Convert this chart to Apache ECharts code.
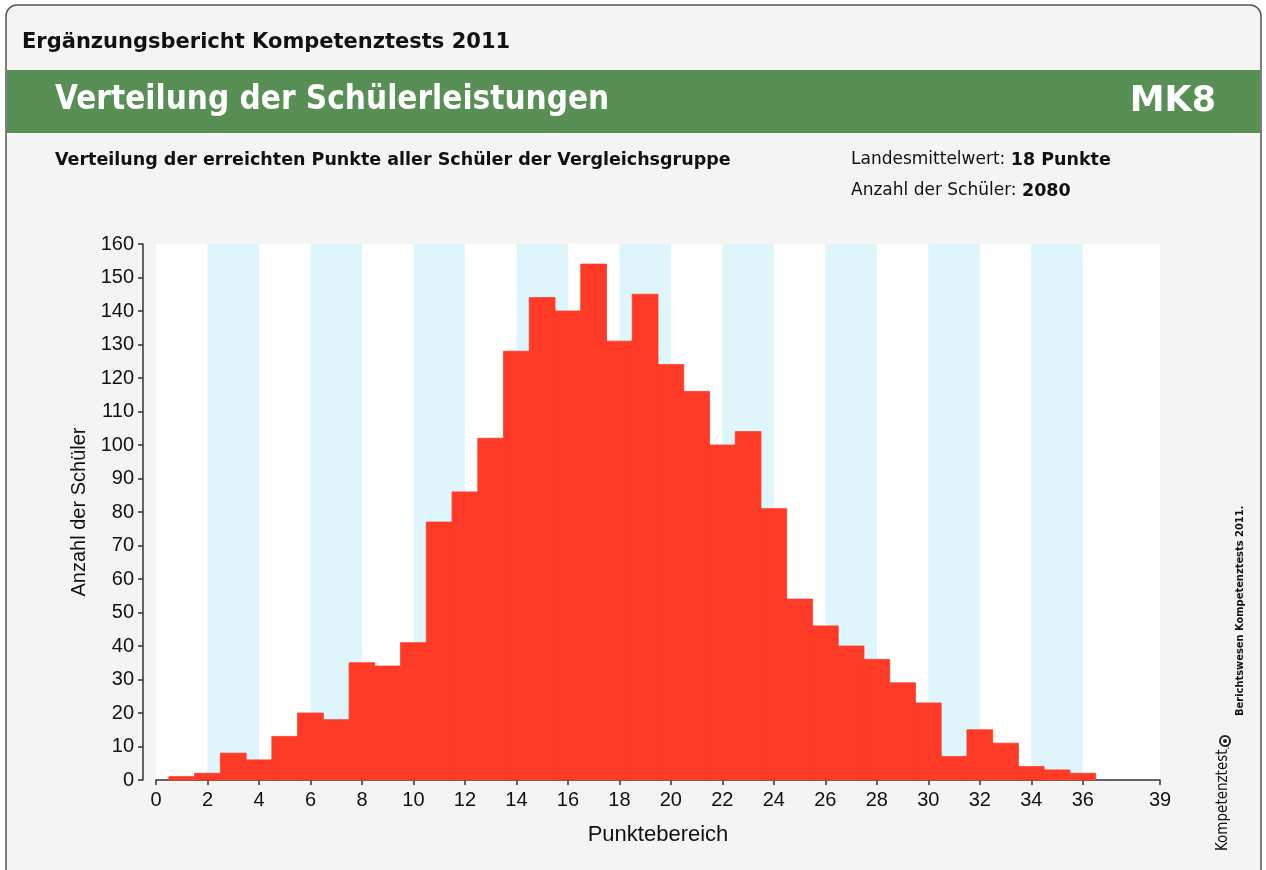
<!DOCTYPE html>
<html>
<head>
<meta charset="utf-8">
<script src="https://cdn.jsdelivr.net/npm/echarts@6/dist/echarts.min.js"></script>
<style>
html,body{margin:0;padding:0;background:#fff;}
#c{width:1266px;height:870px;}
</style>
</head>
<body>
<div id="c"></div>
<script>
// ---- data ----
const points = [1,2,3,4,5,6,7,8,9,10,11,12,13,14,15,16,17,18,19,20,21,22,23,24,25,26,27,28,29,30,31,32,33,34,35,36];
const counts = [1,2,8,6,13,20,18,35,34,41,77,86,102,128,144,140,154,131,145,124,116,100,104,81,54,46,40,36,29,23,7,15,11,4,3,2];
const stripeStarts = [2,6,10,14,18,22,26,30,34];
const xTickLabels = [0,2,4,6,8,10,12,14,16,18,20,22,24,26,28,30,32,34,36,39];
const yMax = 160;
const yStep = 10;

const headFont = '"DejaVu Sans",sans-serif';
const condFont = '"DejaVu Sans Condensed","DejaVu Sans",sans-serif';
const axisFont = '"Liberation Sans",Arial,sans-serif';

const chart = echarts.init(document.getElementById('c'), null, {renderer:'canvas'});

const barData = points.map((p,i)=>[p, counts[i]]);
const stripeData = stripeStarts.map(s=>[s, s+2]);

const option = {
  backgroundColor:'#ffffff',
  animation:false,
  grid:{left:156, right:106, top:244, bottom:90, show:true, backgroundColor:'#ffffff', borderWidth:0},
  xAxis:{
    type:'value', min:0, max:39, interval:1,
    name:'Punktebereich', nameLocation:'middle', nameGap:44,
    nameTextStyle:{fontFamily:axisFont, fontSize:22, color:'#111'},
    axisLine:{show:true, onZero:false, lineStyle:{color:'#333', width:1.5}},
    axisTick:{show:true, length:5, lineStyle:{color:'#333', width:1.5}, customValues:xTickLabels},
    axisLabel:{fontFamily:axisFont, fontSize:20, color:'#111', margin:10, customValues:xTickLabels},
    splitLine:{show:false}
  },
  yAxis:{
    type:'value', min:0, max:yMax, interval:yStep, offset:13,
    name:'Anzahl der Schüler', nameLocation:'middle', nameGap:50,
    nameTextStyle:{fontFamily:axisFont, fontSize:20, color:'#111'},
    axisLine:{show:true, onZero:false, lineStyle:{color:'#333', width:1.5}},
    axisTick:{show:true, length:5, lineStyle:{color:'#333', width:1.5}},
    axisLabel:{fontFamily:axisFont, fontSize:20, color:'#111', margin:9},
    splitLine:{show:false}
  },
  series:[
    {
      type:'custom', z:1, silent:true,
      data:stripeData,
      renderItem:function(params, api){
        const p0 = api.coord([api.value(0), 0]);
        const p1 = api.coord([api.value(1), yMax]);
        return {type:'rect', shape:{x:p0[0], y:p1[1], width:p1[0]-p0[0], height:p0[1]-p1[1]},
                style:{fill:'#dff5fc'}};
      }
    },
    {
      type:'custom', z:2,
      data:barData,
      renderItem:function(params, api){
        const k = api.value(0), v = api.value(1);
        const p0 = api.coord([k-0.5, 0]);
        const p1 = api.coord([k+0.5, v]);
        return {type:'rect', shape:{x:p0[0], y:p1[1], width:p1[0]-p0[0], height:p0[1]-p1[1]},
                style:{fill:'#ff3a26', stroke:'#ff3a26', lineWidth:0.8}};
      }
    }
  ],
  graphic:[
    {type:'rect', z:-10, silent:true, shape:{x:0,y:0,width:1266,height:870}, style:{fill:'#ffffff'}},
    {type:'rect', z:-9, silent:true, shape:{x:6,y:5,width:1255,height:900,r:11}, style:{fill:'#f4f4f4', stroke:'#555', lineWidth:1.5}},
    {type:'rect', z:-8, silent:true, shape:{x:7,y:70,width:1253,height:63}, style:{fill:'#578f54'}},
    {type:'text', left:22, top:32, style:{text:'Ergänzungsbericht Kompetenztests 2011', font:'bold 21px '+headFont, fill:'#111'}},
    {type:'text', left:55, top:84, style:{text:'Verteilung der Schülerleistungen', font:'bold 33px '+condFont, fill:'#ffffff'}},
    {type:'text', right:50, top:84, style:{text:'MK8', font:'bold 35px '+headFont, fill:'#ffffff'}},
    {type:'text', left:55, top:151, style:{text:'Verteilung der erreichten Punkte aller Schüler der Vergleichsgruppe', font:'bold 17.5px '+headFont, fill:'#111'}},
    {type:'text', left:851, top:151, style:{
      text:'{n|Landesmittelwert: }{b|18 Punkte}\n{n|Anzahl der Schüler: }{b|2080}',
      rich:{n:{font:'17px '+headFont, fill:'#111', lineHeight:31}, b:{font:'bold 17.5px '+headFont, fill:'#111', lineHeight:31}}
    }},
    {type:'text', x:1240, y:716, rotation:Math.PI/2, style:{text:'Berichtswesen Kompetenztests 2011.', font:'bold 11px '+condFont, fill:'#111', align:'left', verticalAlign:'middle'}},
    {type:'text', x:1223, y:851, rotation:Math.PI/2, style:{
      text:'{k|Kompetenztest}{d|.de}',
      rich:{k:{font:'15px '+condFont, fill:'#111'}, d:{font:'bold 7px '+condFont, fill:'#111', verticalAlign:'bottom'}},
      align:'left', verticalAlign:'middle'}},
    {type:'circle', shape:{cx:1225, cy:741, r:5}, style:{fill:'#fff', stroke:'#222', lineWidth:2}},
    {type:'circle', shape:{cx:1225, cy:741, r:2}, style:{fill:'#222'}}
  ]
};
chart.setOption(option);
</script>
</body>
</html>
